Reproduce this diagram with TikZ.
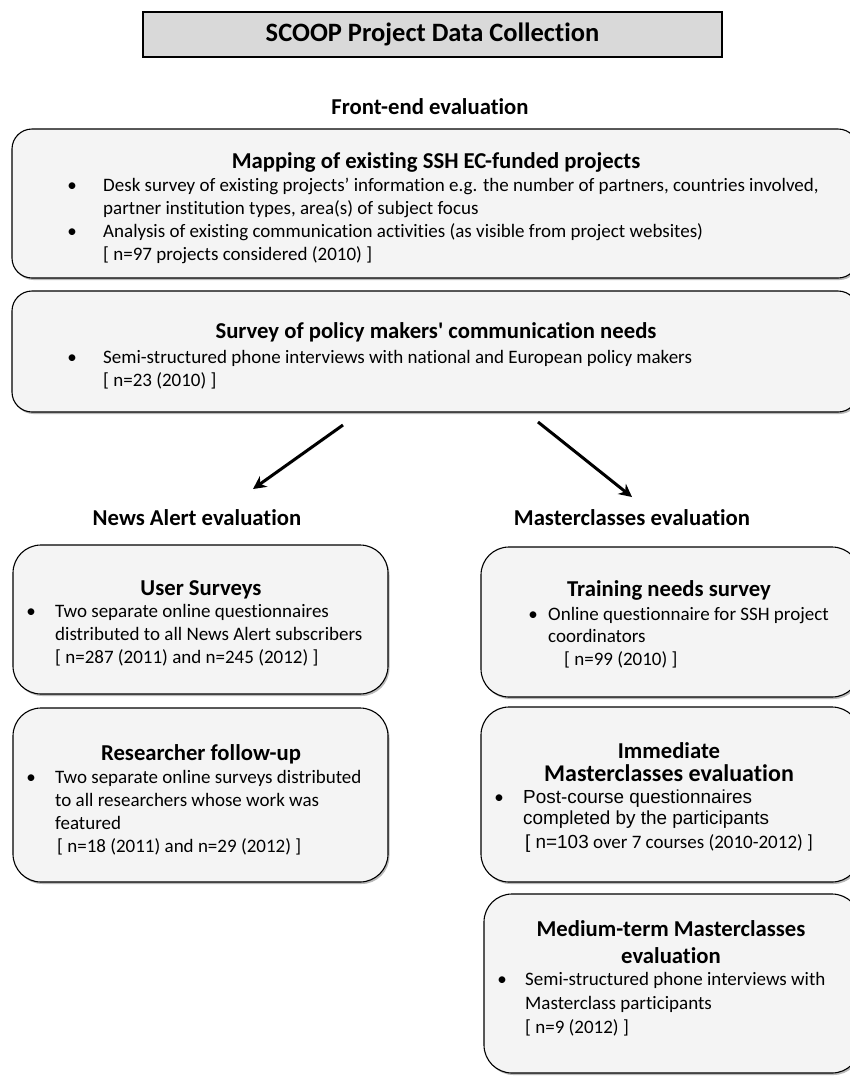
\documentclass[tikz,border=0pt]{standalone}
\usepackage{fontspec}
\setmainfont{Carlito}[Ligatures={TeX,NoCommon}]
\newfontfamily\arialf{Liberation Sans}
\usetikzlibrary{arrows.meta,shadows}
\definecolor{boxfill}{HTML}{F4F4F4}
\definecolor{titlefill}{HTML}{D9D9D9}
\tikzset{
  panel/.style={draw=black, line width=1.1pt, fill=boxfill, drop shadow={shadow xshift=1.5pt, shadow yshift=-2pt, opacity=0.55}},
  hd/.style={font=\fontsize{22.7}{26}\selectfont\bfseries, anchor=base, inner sep=0pt},
  sec/.style={font=\fontsize{22.7}{26}\selectfont\bfseries, anchor=base, inner sep=0pt},
  txt/.style={font=\fontsize{19}{23}\selectfont, anchor=base west, inner sep=0pt},
  bul/.style={font=\fontsize{19}{23}\selectfont, anchor=base, inner sep=0pt},
  arial/.style={font=\arialf\fontsize{18.9}{23}\selectfont},
  arr/.style={line width=3pt, -{Stealth[length=13pt,width=13pt]}, drop shadow={shadow xshift=1pt, shadow yshift=-1.5pt, opacity=0.3}}
}
\begin{document}
\begin{tikzpicture}[x=1pt,y=-1pt]
\useasboundingbox (0,0) rectangle (850,1077);
\clip (0,0) rectangle (850,1077);
\fill[white] (0,0) rectangle (850,1077);

% title
\node[draw=black, line width=1.1pt, fill=titlefill, minimum width=579pt, minimum height=45pt,
      font=\fontsize{26.5}{30}\selectfont\bfseries] (title) at (432.5,34.5) {SCOOP Project Data Collection};
\node[sec] (fe) at (430,114) {Front-end evaluation};

% box 1
\path[panel, rounded corners=20pt] (12,129) rectangle (858,278);
\node[hd] (b1t) at (436,168) {Mapping of existing SSH EC-funded projects};
\node[bul] (b1b1) at (72,191) {•};
\node[txt] (b1l1) at (103,191) {Desk survey of existing projects’ information e.g. the number of partners, countries involved,};
\node[txt] (b1l2) at (103,214) {partner institution types, area(s) of subject focus};
\node[bul] (b1b2) at (72,237) {•};
\node[txt] (b1l3) at (103,237) {Analysis of existing communication activities (as visible from project websites)};
\node[txt] (b1l4) at (103,260) {[ n=97 projects considered (2010) ]};

% box 2
\path[panel, rounded corners=20pt] (12,291) rectangle (858,412);
\node[hd] (b2t) at (436,338) {Survey of policy makers\textquotesingle\ communication needs};
\node[bul] (b2b1) at (72,363) {•};
\node[txt] (b2l1) at (103,363) {Semi-structured phone interviews with national and European policy makers};
\node[txt] (b2l2) at (103,386) {[ n=23 (2010) ]};

% arrows
\coordinate (a1s) at (343,425);
\coordinate (a1e) at (253,489);
\coordinate (a2s) at (538,422);
\coordinate (a2e) at (632,497);
\draw[arr] (a1s) -- (a1e);
\draw[arr] (a2s) -- (a2e);

% section headings
\node[sec] (na) at (197,525) {News Alert evaluation};
\node[sec] (mc) at (632,525) {Masterclasses evaluation};

% user surveys
\path[panel, rounded corners=28pt] (13,545) rectangle (388,694);
\node[hd] (ust) at (201,595) {User Surveys};
\node[bul] (usb) at (31,617) {•};
\node[txt] (usl1) at (55,617) {Two separate online questionnaires};
\node[txt] (usl2) at (55,640) {distributed to all News Alert subscribers};
\node[txt] (usl3) at (55,663) {[ n=287 (2011) and n=245 (2012) ]};

% researcher follow-up
\path[panel, rounded corners=28pt] (13,708) rectangle (388,882);
\node[hd] (rft) at (201,760) {Researcher follow-up};
\node[bul] (rfb) at (31,783) {•};
\node[txt] (rfl1) at (55,783) {Two separate online surveys distributed};
\node[txt] (rfl2) at (55,806) {to all researchers whose work was};
\node[txt] (rfl3) at (55,829) {featured};
\node[txt] (rfl4) at (57,852) {[ n=18 (2011) and n=29 (2012) ]};

% training needs
\path[panel, rounded corners=28pt] (481,547) rectangle (860,697);
\node[hd] (tnt) at (669,596) {Training needs survey};
\node[bul] (tnb) at (533,620) {•};
\node[txt] (tnl1) at (548,620) {Online questionnaire for SSH project};
\node[txt] (tnl2) at (548,642) {coordinators};
\node[txt] (tnl3) at (564,665) {[ n=99 (2010) ]};

% immediate
\path[panel, rounded corners=28pt] (481,707) rectangle (860,882);
\node[hd] (imt1) at (669,758) {Immediate};
\node[hd, font=\fontsize{24}{27}\selectfont\bfseries] (imt2) at (669,781) {Masterclasses evaluation};
\node[bul] (imb) at (499,803) {•};
\node[txt, arial] (iml1) at (523,803) {Post-course questionnaires};
\node[txt, arial] (iml2) at (523,824) {completed by the participants};
\node[txt] (iml3) at (525,848) {{\arialf\fontsize{18.9}{23}\selectfont[ n=103} over 7 courses (2010-2012) ]};

% medium-term
\path[panel, rounded corners=28pt] (484,894) rectangle (860,1073);
\node[hd] (mdt1) at (671,936) {Medium-term Masterclasses};
\node[hd] (mdt2) at (671,963) {evaluation};
\node[bul] (mdb) at (502,985) {•};
\node[txt] (mdl1) at (525,985) {Semi-structured phone interviews with};
\node[txt] (mdl2) at (525,1009) {Masterclass participants};
\node[txt] (mdl3) at (525,1033) {[ n=9 (2012) ]};
\end{tikzpicture}
\end{document}
